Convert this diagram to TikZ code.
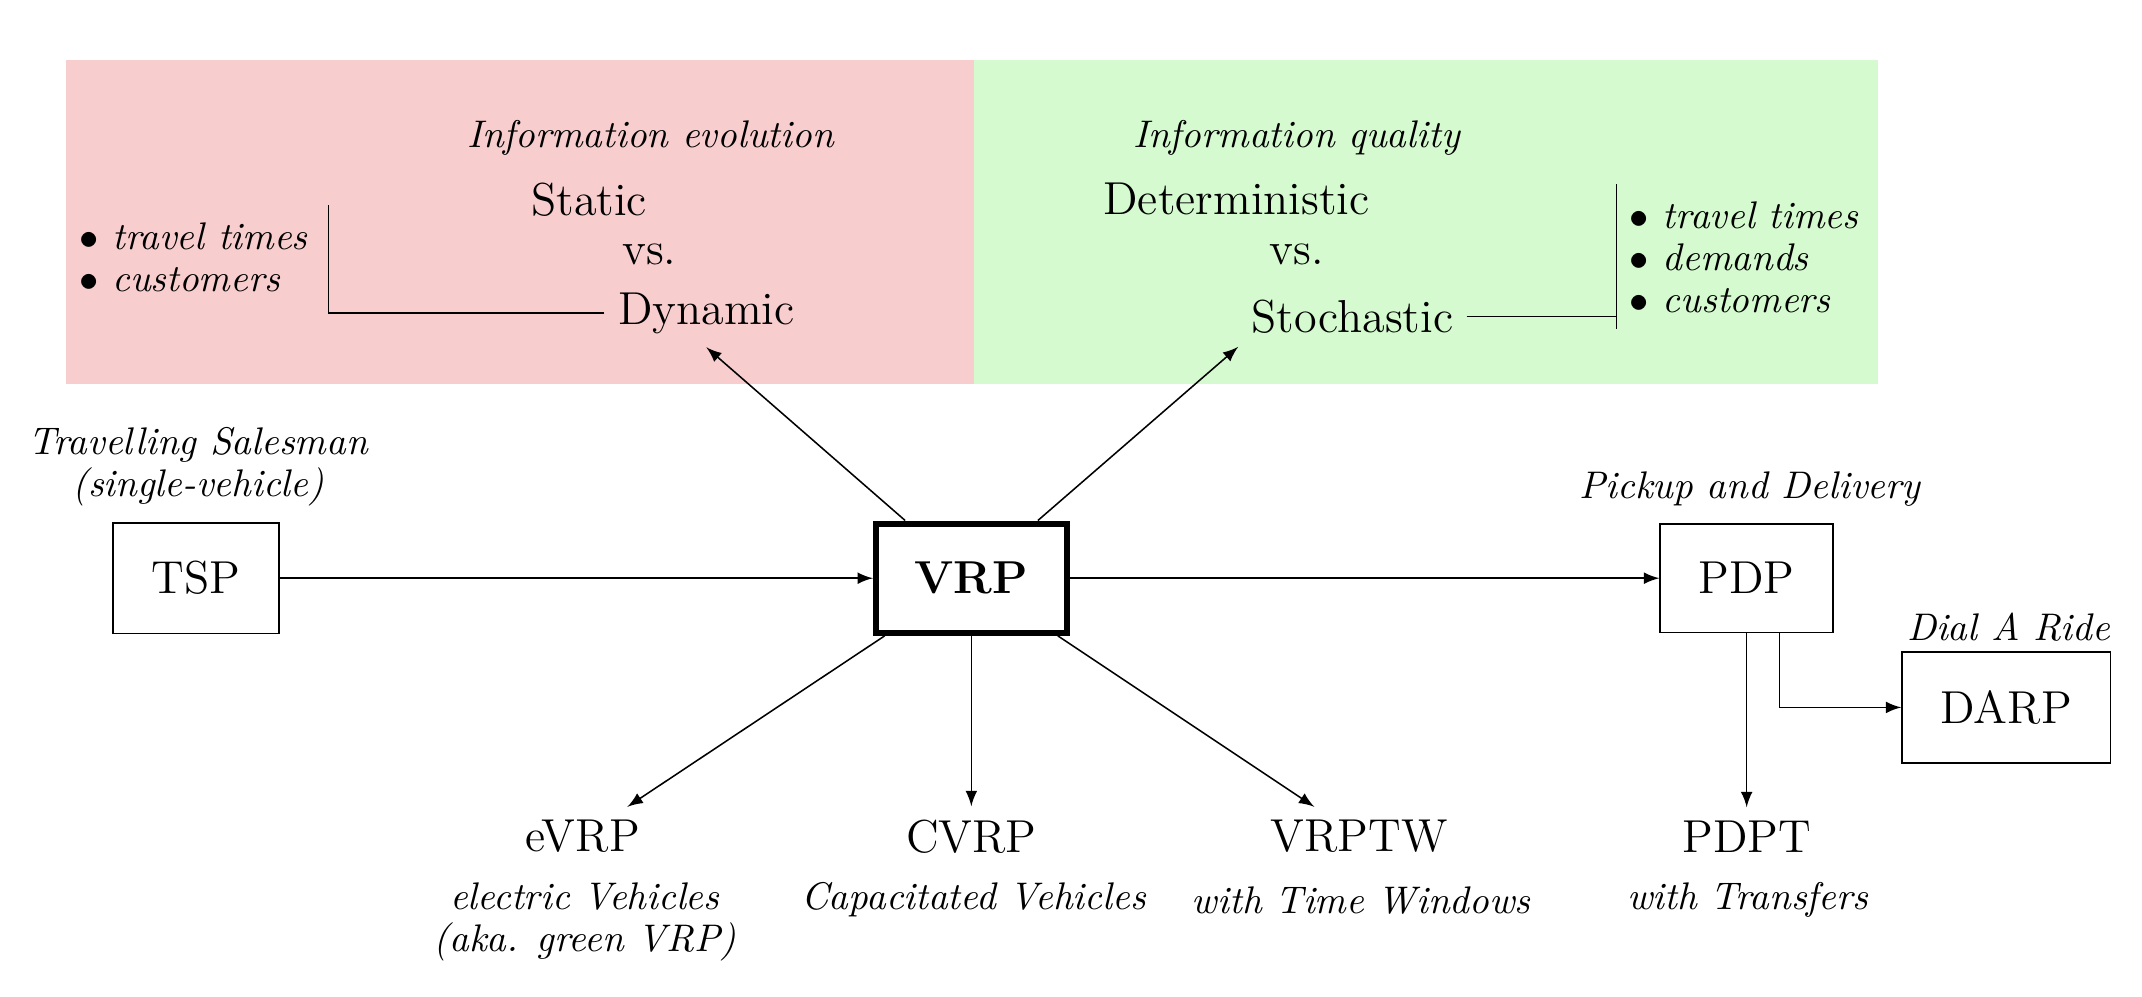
\documentclass[tikz,border=0pt]{standalone}
\usepackage{amsmath}
\definecolor{evocol}{RGB}{247,205,206}
\definecolor{qualcol}{RGB}{213,250,207}

\begin{document}
\begin{tikzpicture}[
    box/.style={draw, inner sep=10pt, font=\large},
    prob/.style={font=\large},
    note/.style={font=\itshape, align=center}
    ]
    \useasboundingbox (0,0) rectangle (19.56,-9.10);
    \fill[evocol] (0.60,-0.55) rectangle (8.89,-3.51);
    \fill[qualcol] (8.89,-0.55) rectangle (17.15,-3.51);

    \node[note] (evo) at (5.94,-1.26) {Information evolution};
    \node[prob] (stat) at (5.38,-1.82) {Static};
    \node[prob] (vsl) at (5.93,-2.32) {vs.};
    \node[prob] (dyn) at (6.45,-2.86) {Dynamic};
    \node[note, align=left, anchor=west] (dynlist) at (0.60,-2.35) {$\bullet$ travel times\\[-1pt] $\bullet$ customers};
    \coordinate (dynbr) at (3.00,-1.87);
    \draw (dyn.west) -| (dynbr);

    \node[note] (qual) at (11.84,-1.26) {Information quality};
    \node[prob] (det) at (11.29,-1.82) {Deterministic};
    \node[prob] (vsr) at (11.84,-2.32) {vs.};
    \node[prob] (sto) at (12.35,-2.89) {Stochastic};
    \node[note, align=left, anchor=west] (stolist) at (14.76,-2.35) {$\bullet$ travel times\\[-1pt] $\bullet$ demands\\[-1pt] $\bullet$ customers};
    \coordinate (stotop) at (14.76,-1.68);
    \coordinate (stobot) at (14.76,-3.00);
    \draw (stotop) -- (stobot);
    \draw (sto.east) -- (sto.east -| stotop);

    \node[box] (tsp) at (1.79,-5.28) {TSP};
    \node[box, ultra thick, font=\large\bfseries] (vrp) at (8.87,-5.28) {VRP};
    \node[box] (pdp) at (15.95,-5.28) {PDP};
    \node[box] (darp) at (18.32,-6.46) {DARP};
    \node[prob] (evrp) at (5.32,-7.64) {eVRP};
    \node[prob] (cvrp) at (8.87,-7.64) {CVRP};
    \node[prob] (vrptw) at (12.41,-7.64) {VRPTW};
    \node[prob] (pdpt) at (15.95,-7.64) {PDPT};

    \node[note] (tspl) at (1.81,-4.26) {Travelling Salesman\\[-1pt](single-vehicle)};
    \node[note] (pdpl) at (15.98,-4.47) {Pickup and Delivery};
    \node[note] (darpl) at (18.34,-5.73) {Dial A Ride};
    \node[note] (evrpl) at (5.34,-8.42) {electric Vehicles\\[-1pt](aka. green VRP)};
    \node[note] (cvrpl) at (8.89,-8.22) {Capacitated Vehicles};
    \node[note] (vrptwl) at (12.43,-8.22) {with Time Windows};
    \node[note] (pdptl) at (15.96,-8.22) {with Transfers};

    \draw[-latex] (tsp) -- (vrp);
    \draw[-latex] (vrp) -- (pdp);
    \draw[-latex] (vrp) -- (dyn.south);
    \draw[-latex] (vrp) -- (sto.south west);
    \draw[-latex] (vrp) -- (evrp);
    \draw[-latex] (vrp) -- (cvrp);
    \draw[-latex] (vrp) -- (vrptw);
    \draw[-latex] (pdp) -- (pdpt);
    \draw[-latex] ([xshift=3mm]pdp.south) |- (darp);
\end{tikzpicture}
\end{document}
